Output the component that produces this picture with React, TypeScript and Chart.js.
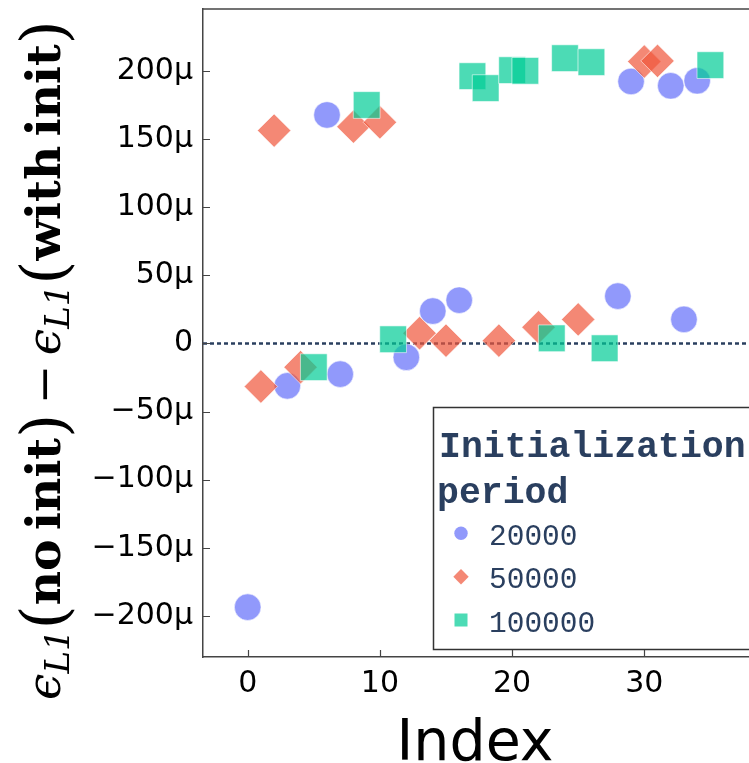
import React, { useEffect, useRef } from 'react';
import { Chart, registerables } from 'chart.js';

Chart.register(...registerables);

// Index of each run and the L1 error difference (in μ units) per initialization period
const index20000 = [0, 3, 6, 7, 12, 14, 16, 28, 29, 32, 33, 34];
const delta20000 = [-193.6, -31.1, 167.8, -22.5, -10.1, 23.8, 31.8, 34.8, 192.4, 189.2, 17.7, 192.9];

const index50000 = [1, 2, 4, 8, 10, 13, 15, 19, 22, 25, 30, 31];
const delta50000 = [-31.6, 156.3, -17.4, 159.2, 162.4, 7.5, 2.1, 2.1, 11.9, 17.7, 207.0, 207.5];

const index100000 = [5, 9, 11, 17, 18, 20, 21, 23, 24, 26, 27, 35];
const delta100000 = [-17.4, 175.1, 3.1, 196.3, 187.5, 200.7, 200.2, 3.8, 209.5, 206.6, -3.5, 204.4];

const periodLabels = ['20000', '50000', '100000'];
const legendTitle = ['Initialization', 'period'];
const xTitle = 'Index';

const X_MIN = -3.38;
const X_MAX = 37.92;
const Y_MIN = -230.2;
const Y_MAX = 245.6;

const BLUE = 'rgba(99,110,250,0.7)';
const RED = 'rgba(239,85,59,0.7)';
const GREEN = 'rgba(0,204,150,0.7)';
const NAVY = '#2a3f5f';
const AXIS = '#444';

const toPoints = (xs: number[], ys: number[]) => xs.map((x, i) => ({ x, y: ys[i] }));

const formatMicro = (v: number) => {
  if (Math.abs(v) < 1e-9) return '0';
  return (v < 0 ? '\u2212' : '') + Math.abs(v) + 'μ';
};

// Inner tick marks, top frame line, axis titles and the boxed legend
const decorations = {
  id: 'decorations',
  afterDraw(chart: any) {
    const { ctx, chartArea, scales } = chart;
    const { left, right, top, bottom } = chartArea;
    const xs = scales.x;
    const ys = scales.y;

    ctx.save();
    // top frame line
    ctx.strokeStyle = AXIS;
    ctx.lineWidth = 1.5;
    ctx.beginPath();
    ctx.moveTo(left, top);
    ctx.lineTo(chart.width, top);
    ctx.stroke();

    // legend box
    const bx = 433.5, by = 407.5, bb = 649.5;
    ctx.fillStyle = '#fff';
    ctx.fillRect(bx, by, chart.width + 5 - bx, bb - by);
    ctx.strokeStyle = '#333';
    ctx.lineWidth = 1.5;
    ctx.strokeRect(bx, by, chart.width + 5 - bx, bb - by);

    ctx.fillStyle = NAVY;
    ctx.textAlign = 'left';
    ctx.textBaseline = 'alphabetic';
    ctx.font = 'bold 36.5px "Liberation Mono", monospace';
    ctx.fillText(legendTitle[0], 439, 457);
    ctx.fillText(legendTitle[1], 437, 503);

    const itemY = [533.3, 576.7, 620];
    const mx = 461;
    // circle
    ctx.fillStyle = BLUE;
    ctx.beginPath();
    ctx.arc(mx, itemY[0], 6.7, 0, Math.PI * 2);
    ctx.fill();
    // diamond
    ctx.fillStyle = RED;
    ctx.beginPath();
    ctx.moveTo(mx, itemY[1] - 7.7);
    ctx.lineTo(mx + 7.7, itemY[1]);
    ctx.lineTo(mx, itemY[1] + 7.7);
    ctx.lineTo(mx - 7.7, itemY[1]);
    ctx.closePath();
    ctx.fill();
    // square
    ctx.fillStyle = GREEN;
    ctx.fillRect(mx - 6.5, itemY[2] - 6.5, 13, 13);

    ctx.fillStyle = NAVY;
    ctx.font = '29.5px "Liberation Mono", monospace';
    periodLabels.forEach((t, i) => ctx.fillText(t, 489, itemY[i] + 11.7));

    // inner tick marks
    ctx.strokeStyle = AXIS;
    ctx.lineWidth = 1.2;
    ctx.beginPath();
    ys.ticks.forEach((t: any) => {
      const py = Math.round(ys.getPixelForValue(t.value)) + 0.5;
      ctx.moveTo(left, py);
      ctx.lineTo(left + 7, py);
    });
    xs.ticks.forEach((t: any) => {
      const px = Math.round(xs.getPixelForValue(t.value)) + 0.5;
      ctx.moveTo(px, bottom);
      ctx.lineTo(px, bottom - 7);
    });
    ctx.stroke();

    // x-axis title
    ctx.fillStyle = '#000';
    ctx.textAlign = 'center';
    ctx.font = '57px "DejaVu Sans", sans-serif';
    ctx.fillText(xTitle, (left + right) / 2 - 1, 760);

    // y-axis title: ϵ_L1(no init) − ϵ_L1(with init)
    const parts = [
      { t: '\u03f5', st: 'italic', k: 1, dy: 0 },
      { t: 'L1', st: 'italic', k: 0.72, dy: 0.2 },
      { t: '(', st: 'normal', k: 1.3, dy: 0.1 },
      { t: 'no\u2009init', st: 'bold', k: 1, dy: 0 },
      { t: ')', st: 'normal', k: 1.3, dy: 0.1 },
      { t: '\u2009\u2212\u2009', st: 'normal', k: 1, dy: 0 },
      { t: '\u03f5', st: 'italic', k: 1, dy: 0 },
      { t: 'L1', st: 'italic', k: 0.72, dy: 0.2 },
      { t: '(', st: 'normal', k: 1.3, dy: 0.1 },
      { t: 'with\u2009init', st: 'bold', k: 1, dy: 0 },
      { t: ')', st: 'normal', k: 1.3, dy: 0.1 },
    ];
    const fontFor = (p: any, s: number) => `${p.st} ${s * p.k}px "DejaVu Serif", serif`;
    const base = 40;
    let total = 0;
    parts.forEach((p) => {
      ctx.font = fontFor(p, base);
      total += ctx.measureText(p.t).width;
    });
    const S = (base * 680) / total;
    ctx.translate(60, 360);
    ctx.rotate(-Math.PI / 2);
    ctx.textAlign = 'left';
    let cx = -340;
    parts.forEach((p) => {
      ctx.font = fontFor(p, S);
      ctx.fillText(p.t, cx, p.dy * S);
      cx += ctx.measureText(p.t).width;
    });
    ctx.restore();
  },
};

export default function App() {
  const canvasRef = useRef<HTMLCanvasElement | null>(null);

  useEffect(() => {
    if (!canvasRef.current) return;
    const chart = new Chart(canvasRef.current, {
      type: 'scatter',
      data: {
        datasets: [
          {
            label: periodLabels[0],
            data: toPoints(index20000, delta20000),
            pointStyle: 'circle',
            pointRadius: 13.3,
            pointHoverRadius: 13.3,
            backgroundColor: BLUE,
            borderColor: 'rgba(255,255,255,0.55)',
            borderWidth: 1,
            order: 3,
          },
          {
            label: periodLabels[1],
            data: toPoints(index50000, delta50000),
            pointStyle: 'rectRot',
            pointRadius: 16.7,
            pointHoverRadius: 16.7,
            backgroundColor: RED,
            borderColor: 'rgba(255,255,255,0.55)',
            borderWidth: 1,
            order: 2,
          },
          {
            label: periodLabels[2],
            data: toPoints(index100000, delta100000),
            pointStyle: 'rect',
            pointRadius: 18.9,
            pointHoverRadius: 18.9,
            backgroundColor: GREEN,
            borderColor: 'rgba(255,255,255,0.55)',
            borderWidth: 1,
            order: 1,
          },
          {
            type: 'line',
            label: 'zero',
            data: [
              { x: X_MIN, y: 0 },
              { x: X_MAX, y: 0 },
            ],
            borderColor: NAVY,
            borderWidth: 2.5,
            borderDash: [4, 3],
            pointRadius: 0,
            fill: false,
            order: 4,
          } as any,
        ],
      },
      options: {
        animation: false,
        responsive: false,
        devicePixelRatio: 1,
        events: [],
        layout: { autoPadding: false, padding: { top: 9, left: 0, right: 0, bottom: 0 } },
        plugins: {
          legend: { display: false },
          tooltip: { enabled: false },
        },
        scales: {
          x: {
            type: 'linear',
            min: X_MIN,
            max: X_MAX,
            grid: { display: false, drawTicks: false },
            border: { display: true, color: AXIS, width: 1.5 },
            ticks: {
              stepSize: 10,
              includeBounds: false,
              padding: 9,
              color: '#000',
              font: { family: '"DejaVu Sans", sans-serif', size: 30 },
            },
            afterFit: (s: any) => {
              s.height = 106;
              s.paddingLeft = 0;
              s.paddingRight = 0;
            },
          },
          y: {
            type: 'linear',
            min: Y_MIN,
            max: Y_MAX,
            grid: { display: false, drawTicks: false },
            border: { display: true, color: AXIS, width: 1.5 },
            ticks: {
              stepSize: 50,
              includeBounds: false,
              padding: 10,
              color: '#000',
              font: { family: '"DejaVu Sans", sans-serif', size: 30 },
              callback: (v: any) => formatMicro(Number(v)),
            },
            afterFit: (s: any) => {
              s.width = 203;
              s.paddingTop = 0;
              s.paddingBottom = 0;
            },
          },
        },
      },
      plugins: [decorations],
    });
    return () => chart.destroy();
  }, []);

  return (
    <div style={{ position: 'absolute', left: 0, top: 0, width: 749, height: 763, background: '#fff' }}>
      <canvas ref={canvasRef} width={749} height={763} style={{ display: 'block' }} />
    </div>
  );
}
